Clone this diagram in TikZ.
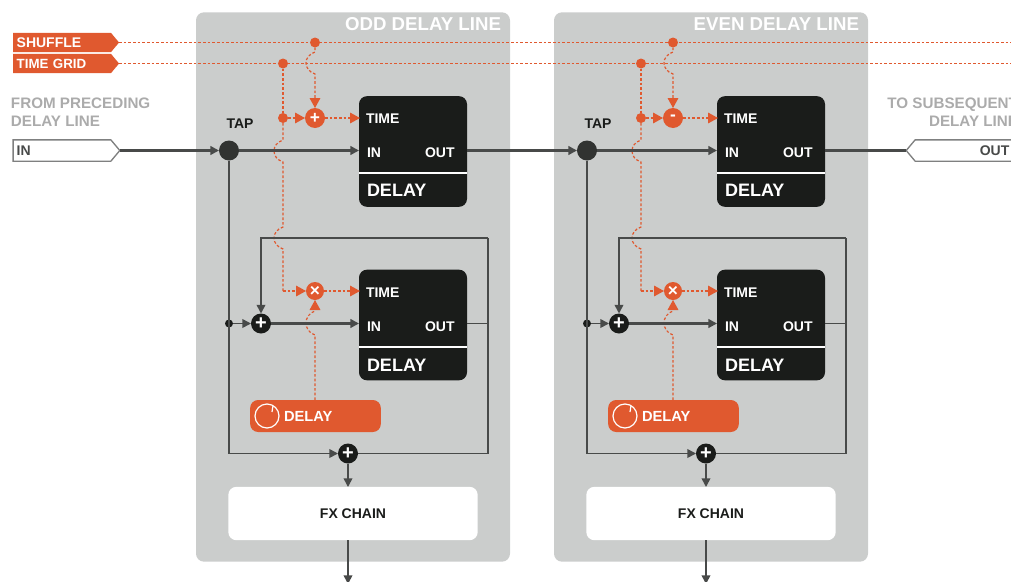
\documentclass[tikz,border=0pt]{standalone}
\usepackage{fontspec}
\setmainfont{Liberation Sans}
\usetikzlibrary{arrows.meta,shapes.symbols}
\definecolor{hot}{HTML}{E0592F}
\definecolor{pane}{HTML}{CBCDCC}
\definecolor{ink}{HTML}{1A1C1A}
\definecolor{wire}{HTML}{484A49}
\definecolor{soft}{HTML}{ABABAB}
\begin{document}
\begin{tikzpicture}[x=0.75pt, y=-0.75pt, >={Triangle[length=6.5pt,width=6.5pt]}]
	\tikzstyle{every node}=[inner sep=0pt, outer sep=0pt, align=center, font=\bfseries]
	\tikzstyle{pane}=[fill=pane, rounded corners=6pt, minimum width=235.5pt, minimum height=412pt]
	\tikzstyle{heading}=[anchor=east, text=white, font=\bfseries\fontsize{14}{14}\selectfont]
	\tikzstyle{tag}=[shape=signal, signal to=east, signal pointer angle=100, minimum height=14.5pt, minimum width=79.5pt, text width=68pt, align=left, font=\bfseries\fontsize{10.5}{10.5}\selectfont]
	\tikzstyle{hottag}=[tag, fill=hot, text=white]
	\tikzstyle{opentag}=[tag, draw=wire!70, line width=1pt, fill=white, text=wire, minimum height=16pt, minimum width=80pt]
	\tikzstyle{note}=[text=soft, font=\fontsize{11.4}{13.5}\selectfont\bfseries]
	\tikzstyle{box}=[fill=ink, rounded corners=6pt, minimum width=81pt]
	\tikzstyle{port}=[anchor=west, text=white, font=\bfseries\fontsize{10.5}{10.5}\selectfont]
	\tikzstyle{boxname}=[anchor=west, text=white, font=\bfseries\fontsize{13.5}{13.5}\selectfont]
	\tikzstyle{sum}=[circle, fill=ink, text=white, minimum size=15pt, font=\bfseries\fontsize{15}{15}\selectfont]
	\tikzstyle{hotsum}=[circle, fill=hot, text=white, font=\bfseries\fontsize{13}{13}\selectfont]
	\tikzstyle{hotdot}=[circle, fill=hot, minimum size=7.5pt]
	\tikzstyle{inkdot}=[circle, fill=ink, minimum size=6pt]
	\tikzstyle{sig}=[draw=wire, line width=1.7pt]
	\tikzstyle{fine}=[draw=wire, line width=1.2pt]
	\tikzstyle{ctrl}=[draw=hot, line width=0.9pt, dash pattern=on 2pt off 1.5pt, >={Triangle[length=7.5pt,width=8pt]}]
	\tikzstyle{grid}=[draw=hot, line width=1pt, dash pattern=on 2pt off 1.5pt]
	\tikzstyle{fx}=[fill=white, rounded corners=6pt, minimum width=187pt, minimum height=40pt, text=ink, font=\bfseries\fontsize{10.5}{10.5}\selectfont]
	\tikzstyle{knob}=[fill=hot, rounded corners=6pt, minimum width=98pt, minimum height=24pt]
	\tikzstyle{dial}=[circle, draw=white, line width=0.9pt, minimum size=18pt]
	\tikzstyle{small}=[font=\bfseries\fontsize{10.5}{10.5}\selectfont]

	\useasboundingbox (0, 0) rectangle (1011, 582);

	% panes
	\node[pane] (P1) at (353, 287) {};
	\node[pane] (P2) at (711, 287) {};
	\node[heading] (H1) at (501, 24) {ODD DELAY LINE};
	\node[heading] (H2) at (859, 24) {EVEN DELAY LINE};

	% inputs and outputs
	\node[hottag] (SH) at (62, 42.5) {SHUFFLE};
	\node[hottag, font=\bfseries\fontsize{10}{10}\selectfont] (TG) at (62, 63.5) {TIME GRID};
	\node[opentag] (IN) at (62, 150.5) {IN};
	\node[opentag, signal to=west, align=right] (OUT) at (964, 150.5) {OUT};
	\node[note, anchor=north west, align=left] (FROM) at (11, 98) {FROM PRECEDING\\DELAY LINE};
	\node[note, anchor=north east, align=right] (TO) at (1018, 98) {TO SUBSEQUENT\\DELAY LINE};
	\coordinate (SHE) at (1011, 42.5);
	\coordinate (TGE) at (1011, 63.5);

	% odd delay line
	\node[circle, fill=ink!90!white, minimum size=15pt] (T1) at (229, 150.5) {};
	\node[small, text=ink] (TAP1) at (240, 124) {TAP};
	\node[box, minimum height=83pt] (A1) at (413, 151.5) {};
	\node[box, minimum height=83pt] (B1) at (413, 325) {};
	\node[port] (AT1) at (366, 118.5) {TIME};
	\node[port] (AI1) at (367, 152.5) {IN};
	\node[port] (AO1) at (425, 152.5) {OUT};
	\node[boxname] (AN1) at (367, 190) {DELAY};
	\node[port] (BT1) at (366, 292.5) {TIME};
	\node[port] (BI1) at (367, 326.5) {IN};
	\node[port] (BO1) at (425, 326.5) {OUT};
	\node[boxname] (BN1) at (367, 365) {DELAY};
	\coordinate (AL1) at (359, 173);
	\coordinate (AR1) at (467, 173);
	\coordinate (BL1) at (359, 347);
	\coordinate (BR1) at (467, 347);
	\coordinate (ATIN1) at (360, 118);
	\coordinate (AIN1) at (359, 150.5);
	\coordinate (AOUT1) at (467, 150.5);
	\coordinate (BTIN1) at (360, 291);
	\coordinate (BIN1) at (359, 323.5);
	\coordinate (BOUT1) at (467, 323.5);
	\draw[white, line width=1.1pt] (AL1) -- (AR1);
	\draw[white, line width=1.1pt] (BL1) -- (BR1);
	\node[sum] (S1) at (261, 323.5) {+};
	\node[sum] (M1) at (348, 453.5) {+};
	\node[inkdot] (D1) at (229, 323.5) {};
	\node[fx] (F1) at (353, 513.5) {FX CHAIN};
	\node[knob] (K1) at (315.5, 416) {};
	\node[dial] (C1) at (267, 416) {};
	\node[port, font=\bfseries\fontsize{11}{11}\selectfont] (KN1) at (284, 416) {DELAY};
	\coordinate (E1) at (348, 584);
	\coordinate (TR1) at (488, 238);
	\coordinate (FX1) at (348, 487);
	\coordinate (FXO1) at (348, 540);
	\coordinate (KU1) at (315, 400);
	\node[hotdot] (GD1) at (283, 63.5) {};
	\node[hotdot] (SD1) at (315, 42.5) {};
	\node[hotdot] (LD1) at (283, 118) {};
	\node[hotsum, minimum size=15pt] (U1) at (315, 118) {+};
	\node[hotsum, minimum size=13.5pt] (X1) at (315, 291) {×};
	\coordinate (ELB1) at (283, 291);
	\draw[white, line width=0.9pt] (C1.60) -- (272, 412);

	% even delay line
	\node[circle, fill=ink!90!white, minimum size=15pt] (T2) at (587, 150.5) {};
	\node[small, text=ink] (TAP2) at (598, 124) {TAP};
	\node[box, minimum height=83pt] (A2) at (771, 151.5) {};
	\node[box, minimum height=83pt] (B2) at (771, 325) {};
	\node[port] (AT2) at (724, 118.5) {TIME};
	\node[port] (AI2) at (725, 152.5) {IN};
	\node[port] (AO2) at (783, 152.5) {OUT};
	\node[boxname] (AN2) at (725, 190) {DELAY};
	\node[port] (BT2) at (724, 292.5) {TIME};
	\node[port] (BI2) at (725, 326.5) {IN};
	\node[port] (BO2) at (783, 326.5) {OUT};
	\node[boxname] (BN2) at (725, 365) {DELAY};
	\coordinate (AL2) at (717, 173);
	\coordinate (AR2) at (825, 173);
	\coordinate (BL2) at (717, 347);
	\coordinate (BR2) at (825, 347);
	\coordinate (ATIN2) at (718, 118);
	\coordinate (AIN2) at (717, 150.5);
	\coordinate (AOUT2) at (825, 150.5);
	\coordinate (BTIN2) at (718, 291);
	\coordinate (BIN2) at (717, 323.5);
	\coordinate (BOUT2) at (825, 323.5);
	\draw[white, line width=1.1pt] (AL2) -- (AR2);
	\draw[white, line width=1.1pt] (BL2) -- (BR2);
	\node[sum] (S2) at (619, 323.5) {+};
	\node[sum] (M2) at (706, 453.5) {+};
	\node[inkdot] (D2) at (587, 323.5) {};
	\node[fx] (F2) at (711, 513.5) {FX CHAIN};
	\node[knob] (K2) at (673.5, 416) {};
	\node[dial] (C2) at (625, 416) {};
	\node[port, font=\bfseries\fontsize{11}{11}\selectfont] (KN2) at (642, 416) {DELAY};
	\coordinate (E2) at (706, 584);
	\coordinate (TR2) at (846, 238);
	\coordinate (FX2) at (706, 487);
	\coordinate (FXO2) at (706, 540);
	\coordinate (KU2) at (673, 400);
	\node[hotdot] (GD2) at (641, 63.5) {};
	\node[hotdot] (SD2) at (673, 42.5) {};
	\node[hotdot] (LD2) at (641, 118) {};
	\node[hotsum, minimum size=15pt] (U2) at (673, 118) {-};
	\node[hotsum, minimum size=13.5pt] (X2) at (673, 291) {×};
	\coordinate (ELB2) at (641, 291);
	\draw[white, line width=0.9pt] (C2.60) -- (630, 412);

	% control lines
	\draw [grid] (SH.east) -- (SHE);
	\draw [grid] (TG.east) -- (TGE);
	\draw [ctrl] (GD1) -- (LD1);
	\draw [ctrl] (LD1) -- (283, 140) .. controls +(-12, 4) and +(-12, -4) .. (283, 162) -- (283, 227) .. controls +(-12, 4) and +(-12, -4) .. (283, 249) -- (ELB1);
	\draw [ctrl, ->] (ELB1) -- (X1);
	\draw [ctrl, ->] (X1) -- (BTIN1);
	\draw [ctrl, ->] (LD1) -- (U1);
	\draw [ctrl, ->] (U1) -- (ATIN1);
	\draw [ctrl, ->] (SD1) -- (315, 52) .. controls +(-12, 4) and +(-12, -4) .. (315, 74) -- (U1);
	\draw [ctrl, ->] (KU1) -- (315, 335) .. controls +(-12, -4) and +(-12, 4) .. (315, 311) -- (X1);
	\draw [ctrl] (GD2) -- (LD2);
	\draw [ctrl] (LD2) -- (641, 140) .. controls +(-12, 4) and +(-12, -4) .. (641, 162) -- (641, 227) .. controls +(-12, 4) and +(-12, -4) .. (641, 249) -- (ELB2);
	\draw [ctrl, ->] (ELB2) -- (X2);
	\draw [ctrl, ->] (X2) -- (BTIN2);
	\draw [ctrl, ->] (LD2) -- (U2);
	\draw [ctrl, ->] (U2) -- (ATIN2);
	\draw [ctrl, ->] (SD2) -- (673, 52) .. controls +(-12, 4) and +(-12, -4) .. (673, 74) -- (U2);
	\draw [ctrl, ->] (KU2) -- (673, 335) .. controls +(-12, -4) and +(-12, 4) .. (673, 311) -- (X2);

	% signal lines
	\draw [sig, ->] (IN.east) -- (T1);
	\draw [sig, ->] (T1) -- (AIN1);
	\draw [sig, ->] (AOUT1) -- (T2);
	\draw [sig, ->] (T2) -- (AIN2);
	\draw [sig] (AOUT2) -- (OUT.west);
	\draw [fine, ->] (T1) |- (M1);
	\draw [fine, ->] (T2) |- (M2);
	\draw [fine, ->] (D1) -- (S1);
	\draw [fine, ->] (D2) -- (S2);
	\draw [sig, ->] (S1) -- (BIN1);
	\draw [sig, ->] (S2) -- (BIN2);
	\draw [fine] (BOUT1) -- (BOUT1 -| TR1);
	\draw [fine] (BOUT2) -- (BOUT2 -| TR2);
	\draw [fine, ->] (TR1) -| (S1);
	\draw [fine, ->] (TR2) -| (S2);
	\draw [fine] (TR1) |- (M1);
	\draw [fine] (TR2) |- (M2);
	\draw [fine, ->] (M1) -- (FX1);
	\draw [fine, ->] (M2) -- (FX2);
	\draw [fine, ->] (FXO1) -- (E1);
	\draw [fine, ->] (FXO2) -- (E2);
\end{tikzpicture}
\end{document}
